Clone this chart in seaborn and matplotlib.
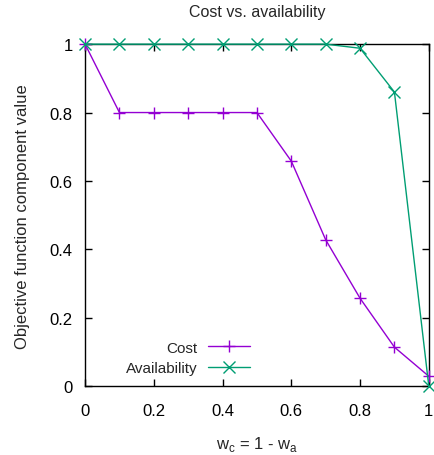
import pandas as pd
import seaborn as sns
import matplotlib.pyplot as plt

w_c = [0.0, 0.1, 0.2, 0.3, 0.4, 0.5, 0.6, 0.7, 0.8, 0.9, 1.0]
cost = [1.0, 0.8, 0.8, 0.8, 0.8, 0.8, 0.658, 0.428, 0.257, 0.114, 0.029]
availability = [1.0, 1.0, 1.0, 1.0, 1.0, 1.0, 1.0, 1.0, 0.988, 0.86, 0.0]

df = pd.DataFrame({'w_c': w_c * 2,
                   'value': cost + availability,
                   'series': ['Cost'] * len(w_c) + ['Availability'] * len(w_c)})

sns.set_style("ticks")
plt.rcParams['font.family'] = ['Liberation Sans', 'DejaVu Sans']
plt.rcParams['mathtext.fontset'] = 'custom'
plt.rcParams['mathtext.rm'] = 'Liberation Sans'

fig = plt.figure(figsize=(4.34, 4.56), dpi=100)
ax = fig.add_axes([0.196, 0.151, 0.792, 0.75])

colors = {'Cost': '#9400D3', 'Availability': '#009E73'}
markers = {'Cost': '+', 'Availability': 'x'}
for name in ['Cost', 'Availability']:
    sub = df[df['series'] == name]
    sns.lineplot(data=sub, x='w_c', y='value', ax=ax, color=colors[name],
                 marker=markers[name], markersize=8, markeredgewidth=1.0,
                 markeredgecolor=colors[name], markerfacecolor=colors[name],
                 linewidth=1.0, label=name, clip_on=False, zorder=3)

ax.set_xlim(0, 1)
ax.set_ylim(0, 1)
ax.set_xticks([0, 0.2, 0.4, 0.6, 0.8, 1])
ax.set_xticklabels(['0', '0.2', '0.4', '0.6', '0.8', '1'])
ax.set_yticks([0, 0.2, 0.4, 0.6, 0.8, 1])
ax.set_yticklabels(['0', '0.2', '0.4', '0.6', '0.8', '1'])
ax.tick_params(direction='in', top=True, right=True, length=5, width=1,
               labelsize=12, colors='black')
ax.tick_params(axis='x', pad=12)
ax.tick_params(axis='y', pad=9)
for s in ax.spines.values():
    s.set_linewidth(1)
    s.set_color('black')
    s.set_visible(True)

ax.set_title('Cost vs. availability', fontsize=11.5, pad=20)
ax.set_ylabel('Objective function component value', fontsize=12, labelpad=14)
ax.set_xlabel(r'w$_\mathregular{c}$ = 1 - w$_\mathregular{a}$', fontsize=12, labelpad=12)

ax.legend(loc='lower right', bbox_to_anchor=(0.512, 0.0), frameon=False,
          markerfirst=False, fontsize=11, handlelength=2.8, handletextpad=0.65,
          labelspacing=0.45, borderaxespad=0.3)

fig.savefig('out.png', dpi=100)
